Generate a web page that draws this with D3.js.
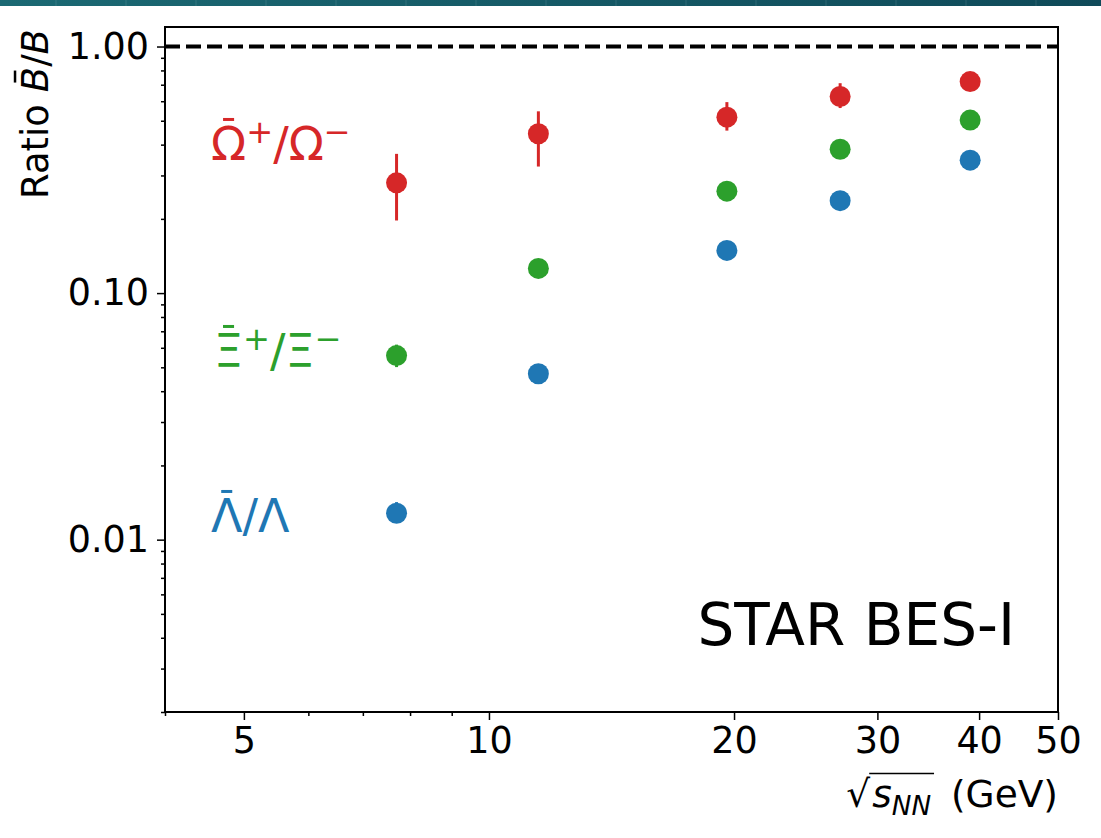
<!DOCTYPE html>
<html>
<head>
<meta charset="utf-8">
<script src="https://cdn.jsdelivr.net/npm/d3@7"></script>
<style>
  body { margin: 0; background: #fff; }
  text { font-family: "DejaVu Sans", sans-serif; }
</style>
</head>
<body>
<svg id="chart" width="1101" height="838"></svg>
<script>
// Collision energies of the STAR Beam Energy Scan I (GeV)
const energies = [7.7, 11.5, 19.6, 27, 39];

// Antibaryon / baryon yield ratios, with error-bar ends
const omegaRatio = [0.280, 0.443, 0.517, 0.627, 0.721];
const omegaLow   = [0.197, 0.326, 0.456, 0.563, 0.721];
const omegaHigh  = [0.367, 0.546, 0.595, 0.710, 0.721];

const xiRatio = [0.0558, 0.1259, 0.259, 0.383, 0.503];
const xiLow   = [0.0501, 0.1259, 0.259, 0.383, 0.503];
const xiHigh  = [0.0618, 0.1259, 0.259, 0.383, 0.503];

const lambdaRatio = [0.0128, 0.0471, 0.149, 0.237, 0.346];
const lambdaLow   = [0.0117, 0.0471, 0.149, 0.237, 0.346];
const lambdaHigh  = [0.0142, 0.0471, 0.149, 0.237, 0.346];

// Axis ticks
const xMajorTicks = [5, 10, 20, 30, 40, 50];
const xMinorTicks = [4, 6, 7, 8, 9];
const yMajorTicks = [0.01, 0.1, 1];
const yTickLabels = ["0.01", "0.10", "1.00"];
const yMinorTicks = [2,3,4,5,6,7,8,9].flatMap(m => [m * 0.001, m * 0.01, m * 0.1]);

const xDomain = [4, 50];
const yDomain = [0.002, 1.2];

const svg = d3.select("#chart");
const W = 1101, H = 838;
const plot = { left: 165, right: 1058, top: 27, bottom: 712 };

svg.append("rect").attr("width", W).attr("height", H).attr("fill", "#fff");

// Slim page header strip
const defs = svg.append("defs");
const grad = defs.append("linearGradient").attr("id", "strip");
grad.append("stop").attr("offset", "0%").attr("stop-color", "#1b6973");
grad.append("stop").attr("offset", "100%").attr("stop-color", "#0f4a59");
svg.append("rect").attr("x", 0).attr("y", 0).attr("width", W).attr("height", 6).attr("fill", "url(#strip)");
svg.append("g").selectAll("line").data(d3.range(56, W, 70)).join("line")
  .attr("x1", d => d).attr("x2", d => d).attr("y1", 0).attr("y2", 6)
  .attr("stroke", "#ffffff").attr("stroke-opacity", 0.12).attr("stroke-width", 1);

const x = d3.scaleLog().domain(xDomain).range([plot.left, plot.right]);
const y = d3.scaleLog().domain(yDomain).range([plot.bottom, plot.top]);

// Axes
const tickFont = 36.5;
const gx = svg.append("g").attr("transform", `translate(0,${plot.bottom})`);
gx.call(d3.axisBottom(x).tickValues(xMajorTicks).tickFormat(d3.format("d")).tickSize(8).tickPadding(7));
const gxm = svg.append("g").attr("transform", `translate(0,${plot.bottom})`);
gxm.call(d3.axisBottom(x).tickValues(xMinorTicks).tickFormat("").tickSize(4));

const gy = svg.append("g").attr("transform", `translate(${plot.left},0)`);
gy.call(d3.axisLeft(y).tickValues(yMajorTicks).tickFormat((d, i) => yTickLabels[i]).tickSize(8).tickPadding(8));
const gym = svg.append("g").attr("transform", `translate(${plot.left},0)`);
gym.call(d3.axisLeft(y).tickValues(yMinorTicks).tickFormat("").tickSize(4));

[gx, gxm, gy, gym].forEach(g => {
  g.select(".domain").remove();
  g.selectAll(".tick line").attr("stroke", "#000").attr("stroke-width", 1.5);
  g.selectAll(".tick text").attr("fill", "#000").attr("font-size", tickFont)
    .attr("font-family", "DejaVu Sans, sans-serif");
});

// Frame
svg.append("rect")
  .attr("x", plot.left).attr("y", plot.top)
  .attr("width", plot.right - plot.left).attr("height", plot.bottom - plot.top)
  .attr("fill", "none").attr("stroke", "#000").attr("stroke-width", 2);

// Reference line at ratio = 1
svg.append("line")
  .attr("x1", plot.left).attr("x2", plot.right)
  .attr("y1", y(1)).attr("y2", y(1))
  .attr("stroke", "#000").attr("stroke-width", 4)
  .attr("stroke-dasharray", "15,6");

// Data series
const series = [
  { name: "lambda", color: "#1f77b4", v: lambdaRatio, lo: lambdaLow, hi: lambdaHigh },
  { name: "xi",     color: "#2ca02c", v: xiRatio,     lo: xiLow,     hi: xiHigh },
  { name: "omega",  color: "#d62728", v: omegaRatio,  lo: omegaLow,  hi: omegaHigh }
];

series.forEach(s => {
  const pts = energies.map((e, i) => ({ e, v: s.v[i], lo: s.lo[i], hi: s.hi[i] }));
  const g = svg.append("g");
  g.selectAll("line").data(pts).join("line")
    .attr("x1", d => x(d.e)).attr("x2", d => x(d.e))
    .attr("y1", d => y(d.lo)).attr("y2", d => y(d.hi))
    .attr("stroke", s.color).attr("stroke-width", 3);
  g.selectAll("circle").data(pts).join("circle")
    .attr("cx", d => x(d.e)).attr("cy", d => y(d.v)).attr("r", 10.5)
    .attr("fill", s.color);
});

// Draw a short bar above character `idx` of a text element
function overbar(parent, textEl, idx, widthFrac, gap, color, thick) {
  const box = textEl.node().getExtentOfChar(idx);
  const fs = parseFloat(textEl.attr("font-size"));
  const cx = box.x + box.width / 2;
  const base = +textEl.attr("y");
  const capTop = base - 0.729 * fs;
  const w = widthFrac * fs;
  parent.append("line")
    .attr("x1", cx - w / 2).attr("x2", cx + w / 2)
    .attr("y1", capTop - gap).attr("y2", capTop - gap)
    .attr("stroke", color).attr("stroke-width", thick);
}

// Species labels: antibaryon-bar / baryon, with charge superscripts
function speciesLabel(xPos, yBase, color, parts, fs) {
  const t = svg.append("text").attr("x", xPos).attr("y", yBase)
    .attr("font-size", fs).attr("fill", color);
  parts.forEach(p => {
    const ts = t.append("tspan").text(p.t);
    if (p.sup) ts.attr("font-size", fs * 0.7).attr("baseline-shift", fs * 0.38 + "px");
  });
  overbar(svg, t, 0, 0.24, 7, color, 3);
}
const labelFs = 46;
speciesLabel(211, 160, "#d62728",
  [{ t: "Ω" }, { t: "+", sup: true }, { t: "/Ω" }, { t: "−", sup: true }], labelFs);
speciesLabel(214, 367, "#2ca02c",
  [{ t: "Ξ" }, { t: "+", sup: true }, { t: "/Ξ" }, { t: "−", sup: true }], labelFs);
speciesLabel(211, 532, "#1f77b4",
  [{ t: "Λ" }, { t: "/Λ" }], labelFs);

// Experiment tag
svg.append("text").attr("x", 1015).attr("y", 645).attr("text-anchor", "end")
  .attr("font-size", 58).attr("fill", "#000").text("STAR BES-I");

// y-axis title, aligned to the top of the axis
const ylfs = 37;
const yl = svg.append("g").attr("transform", `translate(48,${plot.top + 2}) rotate(-90)`);
const ylt = yl.append("text").attr("x", 0).attr("y", 0).attr("text-anchor", "end")
  .attr("font-size", ylfs).attr("fill", "#000");
ylt.append("tspan").text("Ratio ");
ylt.append("tspan").attr("font-style", "italic").text("B");
ylt.append("tspan").text("/");
ylt.append("tspan").attr("font-style", "italic").text("B");
{
  const box = ylt.node().getExtentOfChar(6);
  const cx = box.x + box.width / 2 + 3;
  const yy = -0.729 * ylfs - 6;
  yl.append("line").attr("x1", cx - 6).attr("x2", cx + 6)
    .attr("y1", yy).attr("y2", yy).attr("stroke", "#000").attr("stroke-width", 2.5);
}

// x-axis title, right-aligned: sqrt(s_NN) (GeV)
const xfs = 37.5;
const xl = svg.append("text").attr("x", plot.right).attr("y", 807)
  .attr("text-anchor", "end").attr("font-size", xfs).attr("fill", "#000");
xl.append("tspan").text("√");
xl.append("tspan").attr("font-style", "italic").attr("dx", 2).text("s");
xl.append("tspan").attr("font-style", "italic").attr("font-size", xfs * 0.7)
  .attr("baseline-shift", -xfs * 0.2 + "px").text("NN");
xl.append("tspan").attr("dx", 8).text(" (GeV)");
{
  const n = xl.node();
  const rad = n.getExtentOfChar(0);
  const last = n.getExtentOfChar(3);
  const yTop = rad.y + 1.5;
  svg.append("line").attr("x1", rad.x + rad.width - 1).attr("x2", last.x + last.width + 3)
    .attr("y1", yTop).attr("y2", yTop).attr("stroke", "#000").attr("stroke-width", 1.5);
}
</script>
</body>
</html>
